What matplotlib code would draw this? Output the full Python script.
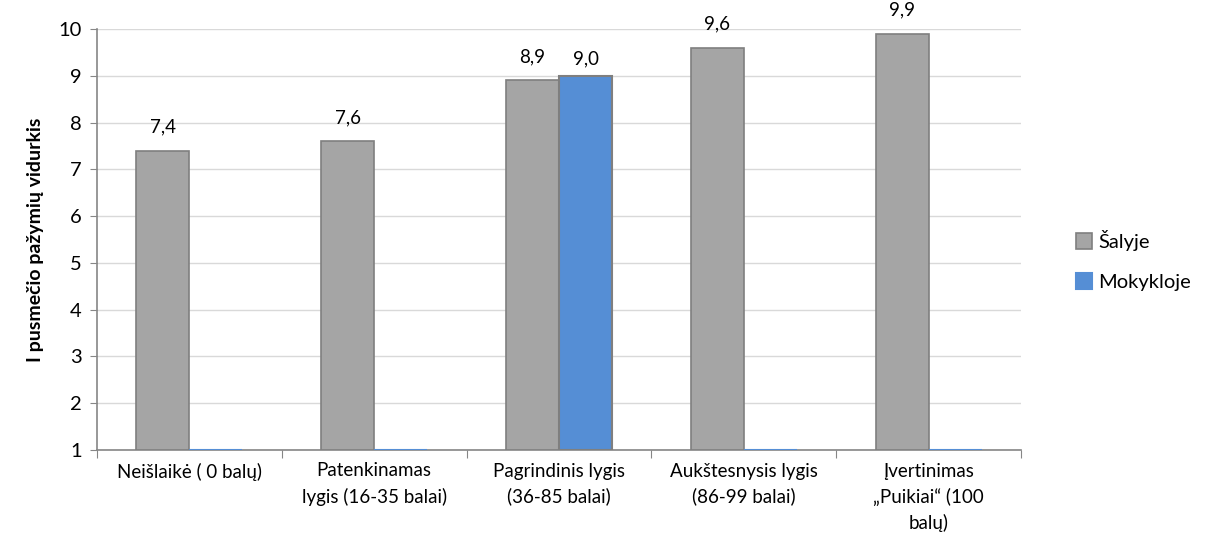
import numpy as np
import matplotlib.pyplot as plt

# --- DONNEES ---
categories = ["Neišlaikė ( 0 balų)", "Patenkinamas\nlygis (16-35 balai)",
              "Pagrindinis lygis\n(36-85 balai)", "Aukštesnysis lygis\n(86-99 balai)",
              "Įvertinimas\n„Puikiai“ (100\nbalų)"]
salyje = [7.4, 7.6, 8.9, 9.6, 9.9]
mokykloje = [1.0, 1.0, 9.0, 1.0, 1.0]
series_names = ["Šalyje", "Mokykloje"]

BASE = 1.0
plt.rcParams['font.family'] = ['Lato', 'DejaVu Sans']

fig = plt.figure(figsize=(12.13, 5.49), dpi=100)
ax = fig.add_axes([97 / 1213, 99 / 549, 924 / 1213, 421 / 549])

x = np.arange(len(categories))
w = 0.287
ax.bar(x - w / 2, np.array(salyje) - BASE, w, bottom=BASE, color='#A5A5A5',
       edgecolor='#7F7F7F', linewidth=1.2, label=series_names[0], zorder=3)
b2 = ax.bar(x + w / 2, np.array(mokykloje) - BASE, w, bottom=BASE, color='#558ED5',
            edgecolor='#558ED5', linewidth=1.5, label=series_names[1], zorder=3)
b2[2].set_edgecolor('#7F7F7F')

for xi, v in zip(x - w / 2, salyje):
    ax.annotate(f"{v:.1f}".replace('.', ','), (xi, v), xytext=(0, 11),
                textcoords='offset points', ha='center', va='bottom', fontsize=13.5)
for xi, v in zip(x + w / 2, mokykloje):
    if v > BASE:
        ax.annotate(f"{v:.1f}".replace('.', ','), (xi, v), xytext=(0, 6),
                    textcoords='offset points', ha='center', va='bottom', fontsize=13.5)

ax.set_xlim(-0.5, len(categories) - 0.5)
ax.set_ylim(1, 10)
ax.set_yticks(range(1, 11))
ax.yaxis.grid(True, color='#D9D9D9', linewidth=1, zorder=0)
ax.set_axisbelow(True)

ax.set_xticks(np.arange(-0.5, len(categories), 1.0))
ax.set_xticklabels([])
ax.set_xticks(x, minor=True)
ax.set_xticklabels(categories, minor=True, fontsize=13.5, linespacing=1.55, va='top')
ax.tick_params(axis='x', which='minor', length=0, pad=9)
ax.tick_params(axis='x', which='major', length=6, color='#868686')
ax.tick_params(axis='y', length=5, color='#868686', labelsize=14.5, pad=6)

for side in ['top', 'right']:
    ax.spines[side].set_visible(False)
for side in ['left', 'bottom']:
    ax.spines[side].set_color('#868686')
    ax.spines[side].set_linewidth(1.2)

ax.set_ylabel("I pusmečio pažymių vidurkis", fontsize=14, fontweight='bold', labelpad=10)

ax.legend(loc='center left', bbox_to_anchor=(1.04, 0.45), frameon=False, fontsize=14.5,
          handlelength=0.8, handleheight=0.8, handletextpad=0.3, labelspacing=1.1)

plt.savefig("out.png", dpi=100)
